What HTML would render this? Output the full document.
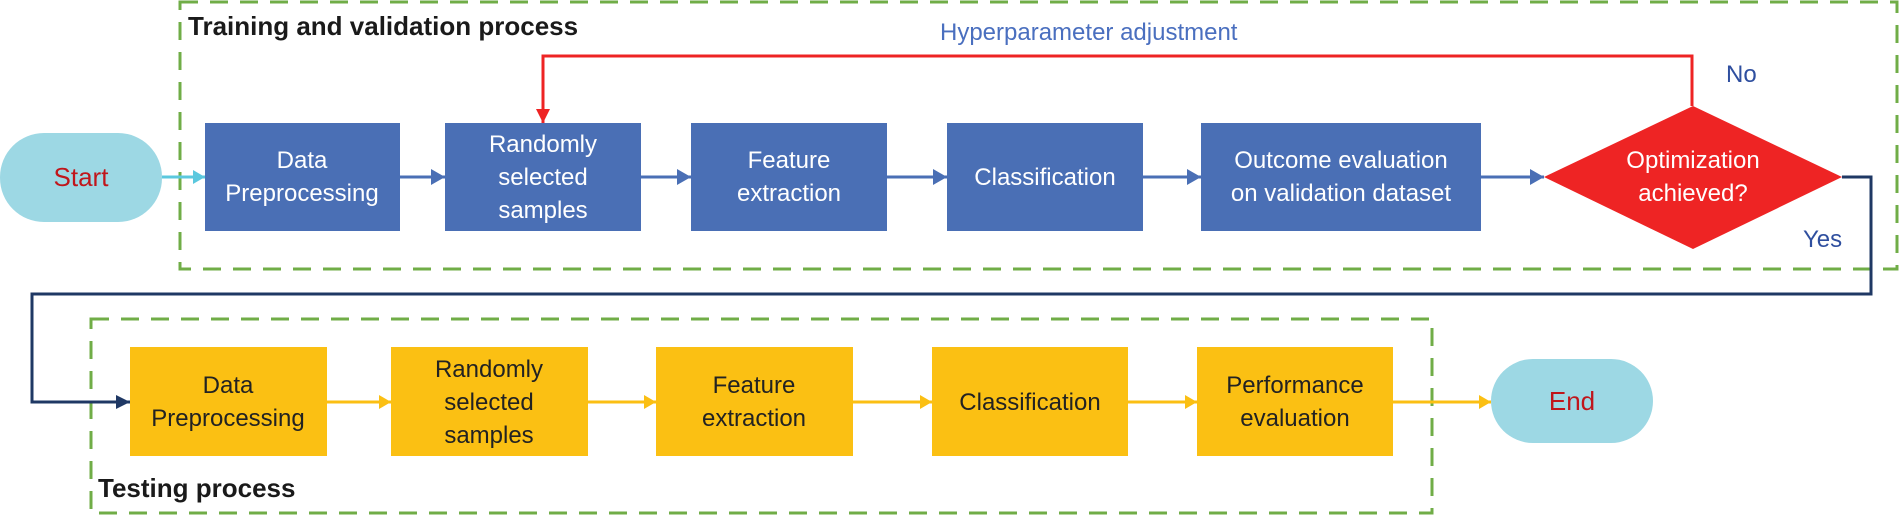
<!DOCTYPE html>
<html><head><meta charset="utf-8"><style>
html,body{margin:0;padding:0;background:#fff;}
svg{display:block;}
text{font-family:"Liberation Sans",Arial,sans-serif;}
</style></head><body>
<svg width="1900" height="515" viewBox="0 0 1900 515" xmlns="http://www.w3.org/2000/svg">
<defs>
<marker id="ab" markerWidth="14" markerHeight="16" refX="14" refY="8" orient="auto" markerUnits="userSpaceOnUse"><path d="M0,0 L14,8 L0,16 z" fill="#4A6FB5"/></marker>
<marker id="ay" markerWidth="12" markerHeight="14" refX="12" refY="7" orient="auto" markerUnits="userSpaceOnUse"><path d="M0,0 L12,7 L0,14 z" fill="#FBBF13"/></marker>
<marker id="ac" markerWidth="12" markerHeight="14" refX="12" refY="7" orient="auto" markerUnits="userSpaceOnUse"><path d="M0,0 L12,7 L0,14 z" fill="#5BC8DE"/></marker>
<marker id="an" markerWidth="14" markerHeight="14" refX="14" refY="7" orient="auto" markerUnits="userSpaceOnUse"><path d="M0,0 L14,7 L0,14 z" fill="#1F3864"/></marker>
<marker id="ar" markerWidth="14" markerHeight="14" refX="14" refY="7" orient="auto" markerUnits="userSpaceOnUse"><path d="M0,0 L14,7 L0,14 z" fill="#EE2424"/></marker>
</defs>
<rect x="180" y="2" width="1717" height="267" fill="none" stroke="#70AD47" stroke-width="3" stroke-dasharray="18,12"/>
<rect x="91" y="319" width="1341" height="194" fill="none" stroke="#70AD47" stroke-width="3" stroke-dasharray="18,12"/>
<text x="188" y="35" font-size="26" font-weight="bold" fill="#1a1a1a">Training and validation process</text>
<text x="98" y="497" font-size="26" font-weight="bold" fill="#1a1a1a">Testing process</text>

<polyline points="1842,177 1871,177 1871,294 32,294 32,402 130,402" fill="none" stroke="#1F3864" stroke-width="3" marker-end="url(#an)"/>
<polyline points="1692,106 1692,56 543,56 543,123" fill="none" stroke="#EE2424" stroke-width="3" marker-end="url(#ar)"/>
<text x="940" y="40" font-size="24" fill="#4A6FBF">Hyperparameter adjustment</text>
<text x="1726" y="82" font-size="24" fill="#2F4F9F">No</text>
<text x="1803" y="247" font-size="24" fill="#2F4F9F">Yes</text>

<rect x="0" y="133" width="162" height="89" rx="44" ry="44" fill="#9DD8E4"/>
<text x="81" y="186" font-size="26" fill="#C0161B" text-anchor="middle">Start</text>
<line x1="162" y1="177" x2="205" y2="177" stroke="#5BC8DE" stroke-width="3" marker-end="url(#ac)"/>

<g fill="#4A6FB5">
<rect x="205" y="123" width="195" height="108"/>
<rect x="445" y="123" width="196" height="108"/>
<rect x="691" y="123" width="196" height="108"/>
<rect x="947" y="123" width="196" height="108"/>
<rect x="1201" y="123" width="280" height="108"/>
</g>
<polygon points="1544,177 1693,106 1842,177 1693,249" fill="#EE2424"/>
<g stroke="#4A6FB5" stroke-width="3">
<line x1="400" y1="177" x2="445" y2="177" marker-end="url(#ab)"/>
<line x1="641" y1="177" x2="691" y2="177" marker-end="url(#ab)"/>
<line x1="887" y1="177" x2="947" y2="177" marker-end="url(#ab)"/>
<line x1="1143" y1="177" x2="1201" y2="177" marker-end="url(#ab)"/>
<line x1="1481" y1="177" x2="1544" y2="177" marker-end="url(#ab)"/>
</g>
<g fill="#fff" font-size="24" text-anchor="middle">
<text x="302" y="168">Data</text><text x="302" y="201">Preprocessing</text>
<text x="543" y="152">Randomly</text><text x="543" y="185">selected</text><text x="543" y="218">samples</text>
<text x="789" y="168">Feature</text><text x="789" y="201">extraction</text>
<text x="1045" y="185">Classification</text>
<text x="1341" y="168">Outcome evaluation</text><text x="1341" y="201">on validation dataset</text>
<text x="1693" y="168">Optimization</text><text x="1693" y="201">achieved?</text>
</g>

<g fill="#FBC013">
<rect x="130" y="347" width="197" height="109"/>
<rect x="391" y="347" width="197" height="109"/>
<rect x="656" y="347" width="197" height="109"/>
<rect x="932" y="347" width="196" height="109"/>
<rect x="1197" y="347" width="196" height="109"/>
</g>
<g stroke="#FBBF13" stroke-width="3">
<line x1="327" y1="402" x2="391" y2="402" marker-end="url(#ay)"/>
<line x1="588" y1="402" x2="656" y2="402" marker-end="url(#ay)"/>
<line x1="853" y1="402" x2="932" y2="402" marker-end="url(#ay)"/>
<line x1="1128" y1="402" x2="1197" y2="402" marker-end="url(#ay)"/>
<line x1="1393" y1="402" x2="1491" y2="402" marker-end="url(#ay)"/>
</g>
<g fill="#222" font-size="24" text-anchor="middle">
<text x="228" y="393">Data</text><text x="228" y="426">Preprocessing</text>
<text x="489" y="377">Randomly</text><text x="489" y="410">selected</text><text x="489" y="443">samples</text>
<text x="754" y="393">Feature</text><text x="754" y="426">extraction</text>
<text x="1030" y="410">Classification</text>
<text x="1295" y="393">Performance</text><text x="1295" y="426">evaluation</text>
</g>
<rect x="1491" y="359" width="162" height="84" rx="42" ry="42" fill="#9DD8E4"/>
<text x="1572" y="410" font-size="26" fill="#C0161B" text-anchor="middle">End</text>
</svg>
</body></html>
